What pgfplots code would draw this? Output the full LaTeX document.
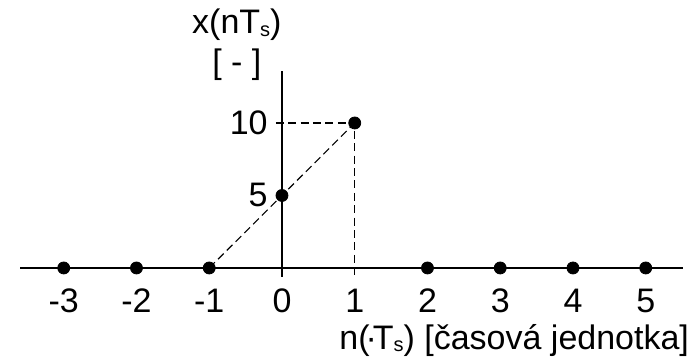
\documentclass[border=0pt]{standalone}
\usepackage{fontspec}
\setmainfont{Liberation Sans}
\usepackage{pgfplots}
\pgfplotsset{compat=1.18}
% small subscript sitting near the baseline
\newcommand{\sub}[1]{\raisebox{-0.15ex}{\fontsize{10}{10}\selectfont #1}}

\begin{document}
\begin{tikzpicture}[font=\fontsize{17}{20}\selectfont]
\begin{axis}[
  x=36.375pt, y=7.25pt,
  xmin=-3.6, xmax=5.51, ymin=-0.62, ymax=13.6,
  axis lines=middle,
  axis line style={-, line width=0.95pt},
  hide obscured x ticks=false, hide obscured y ticks=false,
  xtick={-3,...,5}, xticklabels={-3,-2,-1,0,1,2,3,4,5},
  ytick={5,10}, yticklabels={5,10},
  major tick length=0pt,
  xticklabel style={anchor=base, yshift=-22.5pt},
  yticklabel style={anchor=east, inner sep=0pt, xshift=-7pt},
  xlabel={n(\kern-0.12em·\kern-0.12em T\sub{s}) [časová jednotka]},
  ylabel={x(nT\sub{s})\\{}[ - ]},
  every axis x label/.style={at={(axis cs:5.6,-4.97)}, anchor=east, inner sep=0pt},
  every axis y label/.style={at={(axis cs:-0.62,15.4)}, anchor=center, align=center},
  clip=false,
]
% dashed guide lines
\addplot[black, line width=0.55pt, dash pattern=on 4pt off 2.2pt] coordinates {(-1,0) (1,10)};
\addplot[black, line width=0.55pt, dash pattern=on 4pt off 2.2pt] coordinates {(-0.085,10) (1,10) (1,-0.62)};
% samples x(n)
\addplot[only marks, mark=*, mark size=3pt, black] coordinates {
  (-3,0) (-2,0) (-1,0) (0,5) (1,10) (2,0) (3,0) (4,0) (5,0)};
\coordinate (bbl) at (axis cs:-3.876,-6.62);
\coordinate (btr) at (axis cs:5.636,18.48);
\end{axis}
\pgfresetboundingbox
\useasboundingbox (bbl) rectangle (btr);
\end{tikzpicture}
\end{document}
